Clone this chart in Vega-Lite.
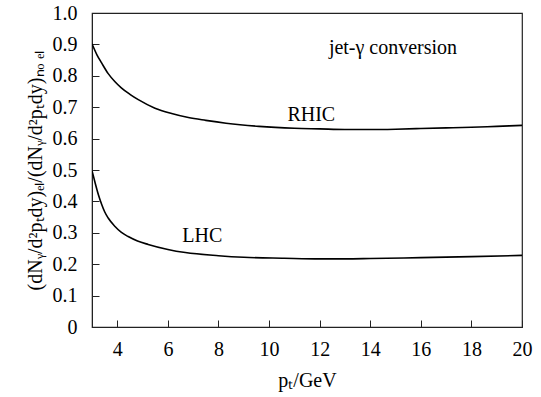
{
  "$schema": "https://vega.github.io/schema/vega-lite/v6.json",
  "width": 430,
  "height": 314,
  "padding": {"left": 92, "top": 13, "right": 19, "bottom": 70},
  "autosize": {"type": "none"},
  "background": "white",
  "config": {
    "view": {"stroke": "#222", "strokeWidth": 1.2},
    "font": "Times New Roman",
    "axis": {
      "labelFont": "Times New Roman",
      "titleFont": "Times New Roman",
      "labelFontSize": 20,
      "labelColor": "black",
      "titleColor": "black",
      "titleFontWeight": "normal",
      "labelFlush": false,
      "labelOverlap": false,
      "tickSize": -7,
      "tickColor": "#222",
      "domainColor": "#222",
      "grid": false,
      "zindex": 1
    }
  },
  "datasets": {
    "curves": [
      {"pt": 3.0, "r": 0.902, "s": "RHIC"},
      {"pt": 3.2, "r": 0.866, "s": "RHIC"},
      {"pt": 3.38, "r": 0.841, "s": "RHIC"},
      {"pt": 3.64, "r": 0.807, "s": "RHIC"},
      {"pt": 3.9, "r": 0.782, "s": "RHIC"},
      {"pt": 4.17, "r": 0.761, "s": "RHIC"},
      {"pt": 4.5, "r": 0.741, "s": "RHIC"},
      {"pt": 4.83, "r": 0.724, "s": "RHIC"},
      {"pt": 5.49, "r": 0.697, "s": "RHIC"},
      {"pt": 6.15, "r": 0.68, "s": "RHIC"},
      {"pt": 6.81, "r": 0.667, "s": "RHIC"},
      {"pt": 7.5, "r": 0.658, "s": "RHIC"},
      {"pt": 8.3, "r": 0.649, "s": "RHIC"},
      {"pt": 9.6, "r": 0.639, "s": "RHIC"},
      {"pt": 11.0, "r": 0.633, "s": "RHIC"},
      {"pt": 12.0, "r": 0.631, "s": "RHIC"},
      {"pt": 13.0, "r": 0.629, "s": "RHIC"},
      {"pt": 14.0, "r": 0.629, "s": "RHIC"},
      {"pt": 15.0, "r": 0.63, "s": "RHIC"},
      {"pt": 16.0, "r": 0.632, "s": "RHIC"},
      {"pt": 17.0, "r": 0.634, "s": "RHIC"},
      {"pt": 18.0, "r": 0.636, "s": "RHIC"},
      {"pt": 19.0, "r": 0.639, "s": "RHIC"},
      {"pt": 20.0, "r": 0.642, "s": "RHIC"},
      {"pt": 3.0, "r": 0.498, "s": "LHC"},
      {"pt": 3.12, "r": 0.46, "s": "LHC"},
      {"pt": 3.25, "r": 0.422, "s": "LHC"},
      {"pt": 3.38, "r": 0.391, "s": "LHC"},
      {"pt": 3.5, "r": 0.367, "s": "LHC"},
      {"pt": 3.64, "r": 0.347, "s": "LHC"},
      {"pt": 3.91, "r": 0.32, "s": "LHC"},
      {"pt": 4.15, "r": 0.302, "s": "LHC"},
      {"pt": 4.43, "r": 0.288, "s": "LHC"},
      {"pt": 4.8, "r": 0.274, "s": "LHC"},
      {"pt": 5.22, "r": 0.263, "s": "LHC"},
      {"pt": 6.0, "r": 0.247, "s": "LHC"},
      {"pt": 6.69, "r": 0.237, "s": "LHC"},
      {"pt": 8.0, "r": 0.227, "s": "LHC"},
      {"pt": 9.0, "r": 0.222, "s": "LHC"},
      {"pt": 10.6, "r": 0.219, "s": "LHC"},
      {"pt": 12.0, "r": 0.217, "s": "LHC"},
      {"pt": 13.0, "r": 0.217, "s": "LHC"},
      {"pt": 14.0, "r": 0.218, "s": "LHC"},
      {"pt": 16.0, "r": 0.221, "s": "LHC"},
      {"pt": 18.0, "r": 0.224, "s": "LHC"},
      {"pt": 20.0, "r": 0.228, "s": "LHC"}
    ],
    "labels": [
      {"pt": 11.67, "r": 0.675, "t": "RHIC"},
      {"pt": 7.36, "r": 0.29, "t": "LHC"},
      {"pt": 14.9, "r": 0.89, "t": "jet-γ conversion"}
    ]
  },
  "encoding": {
    "x": {
      "field": "pt", "type": "quantitative",
      "scale": {"domain": [3, 20], "nice": false, "zero": false},
      "axis": {
        "values": [4, 6, 8, 10, 12, 14, 16, 18, 20],
        "title": "pₜ/GeV",
        "titleFontSize": 20,
        "titlePadding": 11,
        "labelPadding": 19
      }
    },
    "y": {
      "field": "r", "type": "quantitative",
      "scale": {"domain": [0, 1], "nice": false},
      "axis": {
        "values": [0, 0.1, 0.2, 0.3, 0.4, 0.5, 0.6, 0.7, 0.8, 0.9, 1.0],
        "labelExpr": "datum.value == 0 ? '0' : format(datum.value, '.1f')",
        "title": "(dNᵧ/d²pₜdy)ₑₗ/(dNᵧ/d²pₜdy)ₙₒ ₑₗ",
        "titleFontSize": 20,
        "titlePadding": 7,
        "labelPadding": 22
      }
    }
  },
  "layer": [
    {
      "data": {"name": "curves"},
      "mark": {"type": "line", "color": "black", "strokeWidth": 1.6, "interpolate": "monotone", "clip": true},
      "encoding": {"detail": {"field": "s"}}
    },
    {
      "data": {"name": "labels"},
      "mark": {"type": "text", "font": "Times New Roman", "fontSize": 20, "color": "black", "align": "center", "baseline": "middle"},
      "encoding": {"text": {"field": "t"}}
    }
  ]
}
